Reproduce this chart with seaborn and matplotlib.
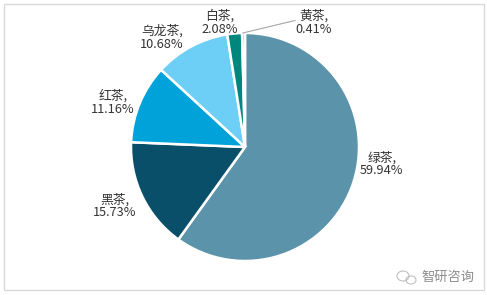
import matplotlib
matplotlib.use("Agg")
import matplotlib.pyplot as plt
import seaborn as sns
from matplotlib.patches import Rectangle, Ellipse

sns.set_theme(style="white")
plt.rcParams['font.family'] = ['Noto Sans CJK SC', 'DejaVu Sans']

categories = ["绿茶", "黑茶", "红茶", "乌龙茶", "白茶", "黄茶"]
values = [59.94, 15.73, 11.16, 10.68, 2.08, 0.41]
pct_labels = ["59.94%", "15.73%", "11.16%", "10.68%", "2.08%", "0.41%"]
colors = ["#5B94AA", "#0A4F6A", "#00A2DA", "#6DCFF6", "#00877D", "#A98B80"]
label_pos = [(1.20, -0.15), (-1.14, -0.52), (-1.16, 0.39), (-0.73, 0.96), (-0.22, 1.09), (0.60, 1.09)]

W, H = 487, 295
fig = plt.figure(figsize=(W / 100, H / 100), dpi=100)
fig.patch.set_facecolor("white")

cx, cy, r = 245, 147, 114
ax = fig.add_axes([(cx - r) / W, (H - cy - r) / H, 2 * r / W, 2 * r / H])
ax.pie(values, colors=colors, startangle=90, counterclock=False,
       wedgeprops=dict(edgecolor="white", linewidth=1.8))
ax.set_xlim(-1, 1)
ax.set_ylim(-1, 1)
ax.set_aspect("auto")
ax.axis("off")

for cat, pct, (lx, ly) in zip(categories, pct_labels, label_pos):
    ax.text(lx, ly, f"{cat},\n{pct}", ha="center", va="center", fontsize=9.2,
            color="#333333", linespacing=1.0, clip_on=False)

# leader line for the smallest slice
ax.plot([-0.02, 0.44], [1.0, 1.11], color="#A6A6A6", lw=0.8, clip_on=False)

# frame
fig.patches.append(Rectangle((3.5 / W, (H - 289.5) / H), 480 / W, 286 / H,
                             transform=fig.transFigure, fill=False,
                             edgecolor="#D9D9D9", lw=1))

# watermark
fig.text(421 / W, 1 - 277 / H, "智研咨询", fontsize=9.5, color="#8C8C8C",
         ha="left", va="center")
fig.patches.append(Ellipse((403 / W, 1 - 276 / H), 12 / W, 10 / H,
                           transform=fig.transFigure, fill=False,
                           edgecolor="#BFBFBF", lw=0.8))
fig.patches.append(Ellipse((411 / W, 1 - 280 / H), 10 / W, 8 / H,
                           transform=fig.transFigure, fill=False,
                           edgecolor="#BFBFBF", lw=0.8))

fig.savefig("out.png", dpi=100, facecolor="white")
